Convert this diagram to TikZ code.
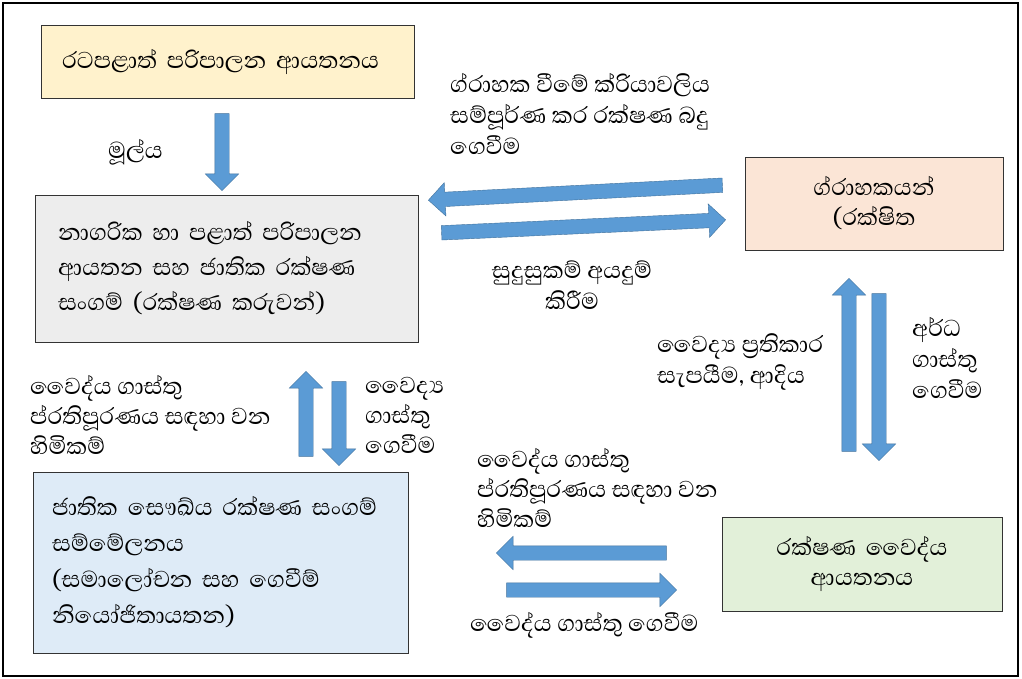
\documentclass[tikz,border=0pt]{standalone}
\usepackage{fontspec}
\newfontfamily\sinhalafont[Script=Sinhala]{Abhaya Libre}
\usetikzlibrary{shapes.arrows,calc}

\definecolor{yellowbox}{HTML}{FFF2CC}
\definecolor{graybox}{HTML}{EDEDED}
\definecolor{peachbox}{HTML}{FBE5D6}
\definecolor{bluebox}{HTML}{DEEBF7}
\definecolor{greenbox}{HTML}{E2F0D9}
\definecolor{arrowblue}{HTML}{5B9BD5}
\definecolor{arrowedge}{HTML}{41719C}

\tikzset{
    box/.style={draw=black!80, thin, inner ysep=0pt},
    lbl/.style={font=\sinhalafont\fontsize{29.5}{31}\selectfont, align=left, anchor=west, inner sep=0pt},
    blockarrow/.style={single arrow, fill=arrowblue, draw=arrowedge, thin,
        inner xsep=0pt, inner ysep=7pt, single arrow head extend=9.5pt, minimum width=0pt},
}

\newcommand\blockarrow[2]{%
    \path let \p1=($(#2)-(#1)$), \n1={atan2(\y1,\x1)}, \n2={veclen(\x1,\y1)} in
        node[blockarrow, minimum height=\n2, rotate=\n1] at ($(#1)!0.5!(#2)$) {};}

\begin{document}
\begin{tikzpicture}[x=1pt, y=-1pt]
    \useasboundingbox (0,0) rectangle (1022,679);
    \draw[line width=2pt] (3,3) rectangle (1018,676);

    \node[box, fill=yellowbox, minimum width=373pt, minimum height=73pt, inner xsep=21pt, text width=331pt, align=left,
        font=\sinhalafont\fontsize{29.5}{35}\selectfont] (rata) at (227.5,61.5) {රටපළාත් පරිපාලන ආයතනය};
    \node[box, fill=graybox, minimum width=383pt, minimum height=147pt, inner xsep=23pt, text width=337pt, align=left,
        font=\sinhalafont\fontsize{29.5}{35}\selectfont] (naga) at (226.5,268.5)
        {නාගරික හා පළාත් පරිපාලන\\ආයතන සහ ජාතික රක්ෂණ\\සංගම් (රක්ෂණ කරුවන්)};
    \node[box, fill=peachbox, minimum width=258pt, minimum height=93pt, inner xsep=5pt, text width=248pt, align=center,
        font=\sinhalafont\fontsize{29.5}{30}\selectfont] (grahaka) at (874,203.5) {ග්රාහකයන්\\(රක්ෂිත};
    \node[box, fill=bluebox, minimum width=375pt, minimum height=181pt, inner xsep=19pt, text width=337pt, align=left,
        font=\sinhalafont\fontsize{29.5}{36}\selectfont] (jathika) at (220.5,562.5)
        {ජාතික සෞඛ්ය රක්ෂණ සංගම්\\සම්මේලනය\\(සමාලෝචන සහ ගෙවීම්\\නියෝජිතායතන)};
    \node[box, fill=greenbox, minimum width=280pt, minimum height=94pt, inner xsep=5pt, text width=270pt, align=center,
        font=\sinhalafont\fontsize{29.5}{30}\selectfont] (vaidya) at (862,564) {රක්ෂණ වෛද්ය\\ආයතනය};

    \coordinate (a1s) at (222,110); \coordinate (a1e) at (222,187);
    \coordinate (t1s) at (726,185); \coordinate (t1e) at (432,200);
    \coordinate (t2s) at (438,233); \coordinate (t2e) at (722,220);
    \coordinate (r1s) at (849,455); \coordinate (r1e) at (849,282);
    \coordinate (r2s) at (879,290); \coordinate (r2e) at (879,457);
    \coordinate (l1s) at (306,460); \coordinate (l1e) at (306,375);
    \coordinate (l2s) at (339,378); \coordinate (l2e) at (339,462);
    \coordinate (b1s) at (670,553); \coordinate (b1e) at (500,553);
    \coordinate (b2s) at (503,590); \coordinate (b2e) at (673,590);

    \blockarrow{a1s}{a1e}
    \blockarrow{t1s}{t1e}
    \blockarrow{t2s}{t2e}
    \blockarrow{r1s}{r1e}
    \blockarrow{r2s}{r2e}
    \blockarrow{l1s}{l1e}
    \blockarrow{l2s}{l2e}
    \blockarrow{b1s}{b1e}
    \blockarrow{b2s}{b2e}

    \node[lbl] (mulya) at (108,152) {මූල්ය};
    \node[lbl] (badu) at (450,114) {ග්රාහක වීමේ ක්රියාවලිය\\සම්පූර්ණ කර රක්ෂණ බදු\\ගෙවීම};
    \node[lbl, anchor=center, align=center] (ayadum) at (572,285) {සුදුසුකම් අයදුම්\\කිරීම};
    \node[lbl] (pratikara) at (657,362) {වෛද්^^^^200dය ප්^^^^200dරතිකාර\\සැපයීම, ආදිය};
    \node[lbl] (ardha) at (912,358) {අර්ධ\\ගාස්තු\\ගෙවීම};
    \node[lbl, font=\sinhalafont\fontsize{29.5}{30}\selectfont] (himikam1) at (30,415) {වෛද්ය ගාස්තු\\ප්රතිපූරණය සඳහා වන\\හිමිකම්};
    \node[lbl, font=\sinhalafont\fontsize{29.5}{30}\selectfont] (gevima1) at (365,415) {වෛද්^^^^200dය\\ගාස්තු\\ගෙවීම};
    \node[lbl, font=\sinhalafont\fontsize{29.5}{30}\selectfont] (himikam2) at (477,488) {වෛද්ය ගාස්තු\\ප්රතිපූරණය සඳහා වන\\හිමිකම්};
    \node[lbl] (gevima2) at (470,625) {වෛද්ය ගාස්තු ගෙවීම};
\end{tikzpicture}
\end{document}
